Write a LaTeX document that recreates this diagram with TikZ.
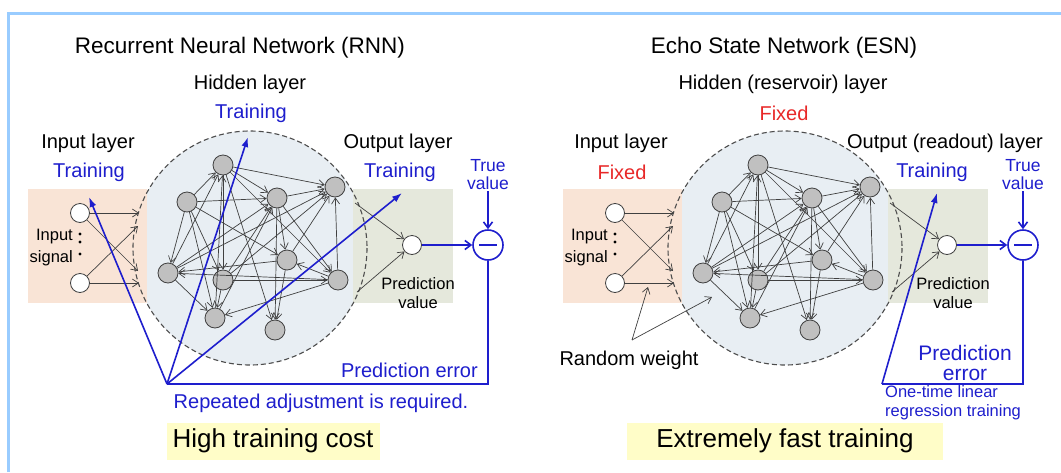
\documentclass[tikz,border=0pt]{standalone}
\usepackage{fontspec}
\setmainfont{Liberation Sans}
\usetikzlibrary{arrows.meta}
\definecolor{frameblue}{RGB}{153,204,255}
\definecolor{inpeach}{RGB}{249,228,214}
\definecolor{outgreen}{RGB}{229,232,220}
\definecolor{resfill}{RGB}{232,238,243}
\definecolor{cellgray}{RGB}{192,192,192}
\definecolor{trainblue}{RGB}{30,30,205}
\definecolor{fixedred}{RGB}{232,40,40}
\definecolor{costyellow}{RGB}{255,253,200}
\newcommand{\rsvnet}{%
  \fill[resfill](250,248)circle(117);
  \fill[inpeach](28,189)rectangle(147,303);
  \fill[outgreen](353,189)rectangle(453,303);
  \draw[black!70,line width=1.1pt,dash pattern=on 5pt off 3pt](250,248)circle(117);
  \foreach \n/\x/\y in {1/223/165,2/187/202,3/277/198,4/335/187,5/168/273,%
                        6/223/280,7/287/260,8/338/280,9/215/318,10/275/330}{%
    \node[cell](h\n)at(\x,\y){};
  }
  \foreach \a/\b in {1/4,1/3,1/6,1/10,1/8,2/1,2/3,2/5,2/9,2/7,2/6,5/1,5/3,5/4,5/9,%
                     6/3,6/8,6/9,6/4,3/4,3/7,3/8,3/10,7/4,7/5,7/10,8/4,8/9,8/7,%
                     9/1,9/3,8/5}{%
    \draw[wire](h\a)--(h\b);
  }
  \node[unit](in1)at(80,213){};
  \node[unit](in2)at(80,283){};
  \coordinate(e1)at(139,213);
  \coordinate(e2)at(138,271);
  \coordinate(e3)at(138,226);
  \coordinate(e4)at(139,283);
  \draw[wire](in1)--(e1);
  \draw[wire](in1)--(e2);
  \draw[wire](in2)--(e3);
  \draw[wire](in2)--(e4);
  \node[small,anchor=east](sigtop)at(73,237){Input};
  \node[small,anchor=east](sigbot)at(73,258){signal};
  \fill(80,234)circle(1.6);
  \fill(80,242)circle(1.6);
  \fill(80,254)circle(1.6);
  \node[unit](out)at(412,245){};
  \coordinate(r1)at(355,203);
  \coordinate(r2)at(357,292);
  \draw[wire](r1)--(out);
  \draw[wire](r2)--(out);
  \node[small,align=center](pval)at(418,293){Prediction\\value};
  \node[errc](err)at(488,245){};
  \draw[trainblue,line width=1.6pt]([xshift=-9pt]err.center)--([xshift=9pt]err.center);
  \node[truelbl,align=center](tv)at(488,175){True\\value};
  \draw[bbarb](out)--(err);
  \draw[bbarb](tv)--(err);
}

\begin{document}
\begin{tikzpicture}[x=1pt,y=-1pt,
  cell/.style={circle,draw=black!75,fill=cellgray,line width=0.8pt,minimum size=20pt,inner sep=0pt},
  unit/.style={circle,draw=black!75,fill=white,line width=0.8pt,minimum size=19pt,inner sep=0pt},
  errc/.style={circle,draw=trainblue,fill=white,line width=1.6pt,minimum size=30pt,inner sep=0pt},
  wire/.style={-{Straight Barb[length=6pt,width=8pt]},black!75,line width=0.7pt},
  bline/.style={trainblue,line width=1.6pt},
  bbarb/.style={bline,-{Straight Barb[length=6pt,width=9pt]}},
  btip/.style={bline,-{Latex[length=10pt,width=7pt]}},
  title/.style={font=\fontsize{22.5}{25}\selectfont,inner sep=0pt},
  lbl/.style={font=\fontsize{20}{22}\selectfont,inner sep=0pt},
  small/.style={font=\fontsize{16.5}{19}\selectfont,inner sep=0pt},
  truelbl/.style={font=\fontsize{17.5}{18}\selectfont,inner sep=1pt,text=trainblue},
  costbox/.style={fill=costyellow,font=\fontsize{26}{28}\selectfont,minimum height=37pt,inner sep=0pt}]
  \useasboundingbox(0,0)rectangle(1061,472);
  \fill[white](0,0)rectangle(1061,472);
  \draw[frameblue,line width=3pt](8,472)--(8,13)--(1061,13);
  % recurrent network
  \begin{scope}
    \rsvnet
    \node[title](ttl)at(240,48){Recurrent Neural Network (RNN)};
    \node[lbl](hidl)at(250,84){Hidden layer};
    \node[lbl,trainblue](hidt)at(251,113){Training};
    \node[lbl](inl)at(88,143){Input layer};
    \node[lbl,trainblue](int)at(89,172){Training};
    \node[lbl](outl)at(398,143){Output layer};
    \node[lbl,trainblue](outt)at(400,172){Training};
    \coordinate(hub)at(167,384);
    \coordinate(tgi)at(89,197);
    \coordinate(tgh)at(248,137);
    \coordinate(tgo)at(402,193);
    \draw[bline](err.south)|-(hub);
    \draw[btip](hub)--(tgi);
    \draw[btip](hub)--(tgh);
    \draw[btip](hub)--(tgo);
    \node[lbl,trainblue,anchor=east](perr)at(478,370){Prediction error};
    \node[lbl,trainblue](rep)at(321,403){Repeated adjustment is required.};
    \node[costbox,minimum width=213pt](cost)at(273,441){High training cost};
  \end{scope}
  % echo state network
  \begin{scope}[xshift=535pt]
    \rsvnet
    \node[title](ttl)at(249,48){Echo State Network (ESN)};
    \node[lbl](hidl)at(248,84){Hidden (reservoir) layer};
    \node[lbl,fixedred](hidt)at(249,113){Fixed};
    \node[lbl](inl)at(86,143){Input layer};
    \node[lbl,fixedred](int)at(87,172){Fixed};
    \node[lbl](outl)at(410,143){Output (readout) layer};
    \node[lbl,trainblue](outt)at(397,172){Training};
    \coordinate(rw)at(97,340);
    \coordinate(rwa)at(113,287);
    \coordinate(rwb)at(177,297);
    \node[lbl](rwl)at(94,360){Random weight};
    \draw[wire](rw)--(rwa);
    \draw[wire](rw)--(rwb);
    \coordinate(hub)at(347,384);
    \coordinate(tgo)at(402,193);
    \draw[bline](err.south)|-(hub);
    \draw[btip](hub)--(tgo);
    \node[lbl,trainblue,align=center,font=\fontsize{21}{20}\selectfont](perr)at(430,363){Prediction\\error};
    \node[small,trainblue,align=left,anchor=west](otl)at(350,403){One-time linear\\regression training};
    \node[costbox,minimum width=316pt](cost)at(250,441){Extremely fast training};
  \end{scope}
\end{tikzpicture}
\end{document}
